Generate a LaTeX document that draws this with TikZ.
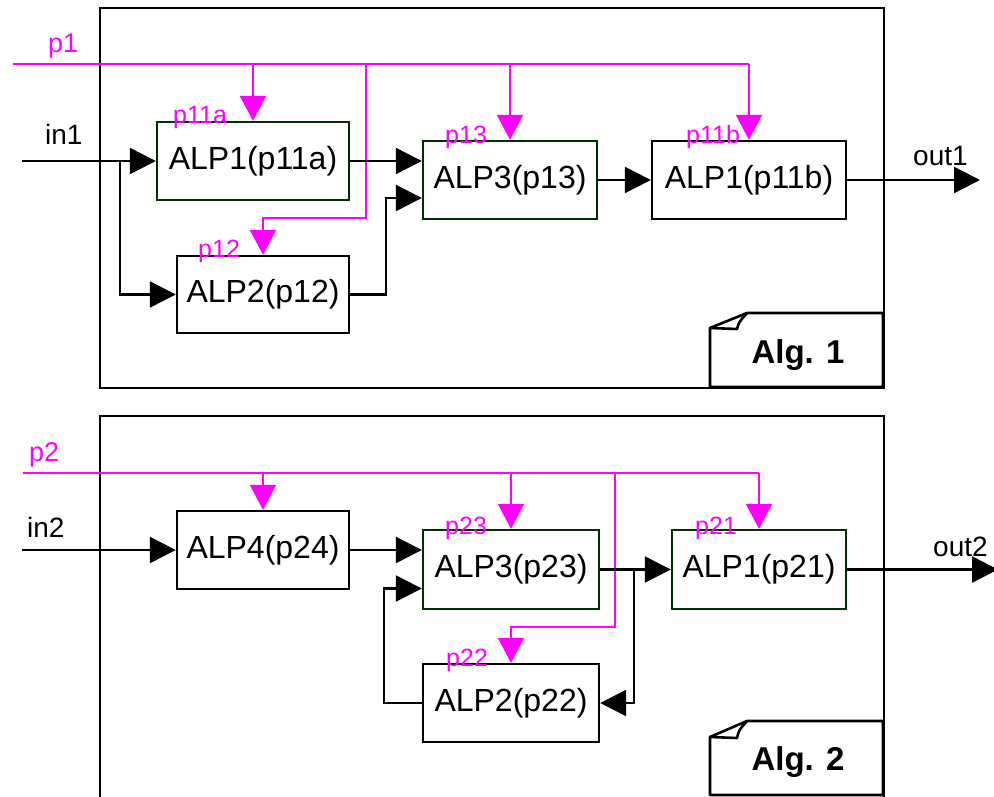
\documentclass[tikz,border=0pt]{standalone}
\usepackage{fontspec}
\setmainfont{Liberation Sans}
\usetikzlibrary{arrows.meta,calc}
\definecolor{mag}{RGB}{255,0,255}
\definecolor{dgreen}{RGB}{0,48,0}
\begin{document}
\begin{tikzpicture}[x=1pt,y=-1pt,
  alpbox/.style={draw=black,line width=2.4pt,fill=white,inner sep=0pt,font=\fontsize{32}{38}\selectfont},
  gbox/.style={alpbox,draw=dgreen},
  sig/.style={draw=black,line width=2.4pt,-{Triangle[length=26pt,width=26pt]}},
  par/.style={draw=mag,line width=2.4pt},
  parar/.style={par,-{Triangle[length=25pt,width=26pt]}},
  plabel/.style={text=mag,anchor=base west,inner sep=0pt,font=\fontsize{25}{30}\selectfont},
  biglabel/.style={text=mag,anchor=base west,inner sep=0pt,font=\fontsize{27}{32}\selectfont},
  iolabel/.style={anchor=base west,inner sep=0pt,font=\fontsize{28}{34}\selectfont},
  panel/.style={draw=black,line width=2.4pt},
  note/.style={draw=black,line width=2.6pt,fill=white,line join=round},
  notetext/.style={inner sep=0pt,font=\fontsize{33}{39}\selectfont\bfseries},
]
\useasboundingbox (0,0) rectangle (994,797);
\fill[white] (0,0) rectangle (994,797);

% panels
\draw[panel] (100,8) rectangle (884,388);
\draw[panel] (100,416) rectangle (884,812);

% ---------- Alg. 1 boxes ----------
\node[gbox,minimum width=192pt,minimum height=78pt] (a11a) at (253,161) {ALP1(p11a)};
\node[gbox,minimum width=174pt,minimum height=78pt] (a13) at (510,180) {ALP3(p13)};
\node[alpbox,minimum width=194pt,minimum height=78pt] (a11b) at (749,180) {ALP1(p11b)};
\node[alpbox,minimum width=172pt,minimum height=77pt] (a12) at (263,294.5) {ALP2(p12)};

% ---------- Alg. 2 boxes ----------
\node[alpbox,minimum width=172pt,minimum height=78pt] (a24) at (263,550) {ALP4(p24)};
\node[gbox,minimum width=176pt,minimum height=79pt] (a23) at (511,569.5) {ALP3(p23)};
\node[gbox,minimum width=174pt,minimum height=79pt] (a21) at (759,569.5) {ALP1(p21)};
\node[alpbox,minimum width=176pt,minimum height=78pt] (a22) at (511,703) {ALP2(p22)};

% ---------- coordinates ----------
\coordinate (p1s) at (13,64);
\coordinate (p1r) at (366,64);
\coordinate (p1k) at (366,218);
\coordinate (p2s) at (23,473);
\coordinate (p2r) at (615,473);
\coordinate (p2k) at (615,627);
\coordinate (in1s) at (22,161);
\coordinate (br1) at (120,161);
\coordinate (out1e) at (980,180);
\coordinate (in2s) at (22,550);
\coordinate (br2) at (634,569.5);
\coordinate (out2e) at (998,569.5);

% ---------- parameter lines (magenta) ----------
\draw[par] (p1s) -- (a11b.north |- p1s);
\draw[parar] (a11a.north |- p1s) -- (a11a.north);
\draw[parar] (a13.north |- p1s) -- (a13.north);
\draw[parar] (a11b.north |- p1s) -- (a11b.north);
\draw[parar] (p1r) -- (p1k) -| (a12.north);

\draw[par] (p2s) -- (a21.north |- p2s);
\draw[parar] (a24.north |- p2s) -- (a24.north);
\draw[parar] (a23.north |- p2s) -- (a23.north);
\draw[parar] (a21.north |- p2s) -- (a21.north);
\draw[parar] (p2r) -- (p2k) -| (a22.north);

% ---------- signal lines Alg. 1 ----------
\draw[sig] (in1s) -- (a11a.west);
\draw[sig] (br1) |- (a12.west);
\draw[sig] (a11a.east) -- (a11a.east -| a13.west);
\draw[sig] (a12.east) -- ++(36,0) |- ($(a13.west)+(0,18)$);
\draw[sig] (a13.east) -- (a11b.west);
\draw[sig] (a11b.east) -- (out1e);

% ---------- signal lines Alg. 2 ----------
\draw[sig] (in2s) -- (a24.west);
\draw[sig] (a24.east) -- (a24.east -| a23.west);
\draw[sig] (a23.east) -- (a21.west);
\draw[sig] (br2) |- (a22.east);
\draw[sig] (a22.west) -- ++(-38,0) |- ($(a23.west)+(0,19)$);
\draw[sig] (a21.east) -- (out2e);

% ---------- notes ----------
\draw[note] (710,387) -- (710,328) -- (747,313) -- (883,313) -- (883,387) -- cycle;
\draw[line width=2.6pt,line join=round] (710,328) -- (737,329) .. controls (739,322) .. (747,313);
\node[notetext] (alg1) at (798,355) {Alg. 1};

\draw[note] (710,795) -- (710,737) -- (747,721) -- (883,721) -- (883,795) -- cycle;
\draw[line width=2.6pt,line join=round] (710,737) -- (737,738) .. controls (739,730) .. (747,721);
\node[notetext] (alg2) at (798,762) {Alg. 2};

% ---------- labels ----------
\node[biglabel] (lp1) at (48,53) {p1};
\node[biglabel] (lp2) at (29,461) {p2};
\node[plabel] (lp11a) at (173,124) {p11a};
\node[plabel] (lp13) at (445,144) {p13};
\node[plabel] (lp11b) at (686,144) {p11b};
\node[plabel] (lp12) at (198,257) {p12};
\node[plabel] (lp23) at (445,534) {p23};
\node[plabel] (lp21) at (695,534) {p21};
\node[plabel] (lp22) at (446,666) {p22};
\node[iolabel] (lin1) at (45,145) {in1};
\node[iolabel] (lin2) at (27,537) {in2};
\node[iolabel] (lout1) at (913,166) {out1};
\node[iolabel] (lout2) at (933,556) {out2};
\end{tikzpicture}
\end{document}
